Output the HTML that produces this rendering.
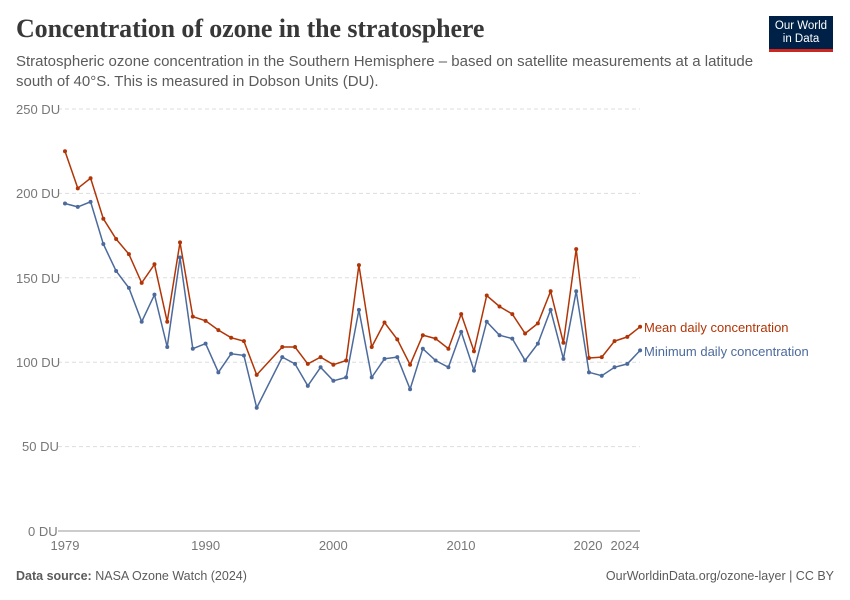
<!DOCTYPE html>
<html><head><meta charset="utf-8"><style>
body{margin:0;background:#fff;font-family:"Liberation Sans",sans-serif;}
#c{position:relative;width:850px;height:600px;overflow:hidden}
h1{position:absolute;left:16px;top:14px;margin:0;font-family:"Liberation Serif",serif;font-weight:bold;font-size:26px;color:#383838;letter-spacing:-0.1px}
.sub{position:absolute;left:16px;top:52px;font-size:15px;color:#5b5b5b;line-height:19.5px;width:740px}
.logo{position:absolute;left:769px;top:16px;width:64px;height:36px;background:#002147;color:#fff;font-size:11.5px;line-height:13px;text-align:center;padding-top:4px;box-sizing:border-box;border-bottom:3px solid #ce261e}
.foot{position:absolute;top:569px;font-size:12.5px;color:#5b5b5b}
</style></head><body><div id="c">
<h1>Concentration of ozone in the stratosphere</h1>
<div class="sub">Stratospheric ozone concentration in the Southern Hemisphere – based on satellite measurements at a latitude south of 40°S. This is measured in Dobson Units (DU).</div>
<div class="logo">Our World<br>in Data</div>
<svg width="850" height="600" style="position:absolute;left:0;top:0" font-family="Liberation Sans,sans-serif">
<g stroke="#ddd" stroke-dasharray="4,3">
<line x1="58" x2="640" y1="109" y2="109"/><line x1="58" x2="640" y1="193.4" y2="193.4"/><line x1="58" x2="640" y1="277.8" y2="277.8"/><line x1="58" x2="640" y1="362.2" y2="362.2"/><line x1="58" x2="640" y1="446.6" y2="446.6"/>
</g>
<line x1="58" x2="640" y1="531" y2="531" stroke="#999"/>
<g font-size="13" fill="#777">
<text x="16" y="114">250 DU</text><text x="16" y="198">200 DU</text><text x="16" y="283">150 DU</text><text x="16" y="367">100 DU</text><text x="22" y="451">50 DU</text><text x="28" y="536">0 DU</text>
<text x="65" y="550" text-anchor="middle">1979</text><text x="205.6" y="550" text-anchor="middle">1990</text><text x="333.3" y="550" text-anchor="middle">2000</text><text x="461" y="550" text-anchor="middle">2010</text><text x="588" y="550" text-anchor="middle">2020</text><text x="625" y="550" text-anchor="middle">2024</text>
</g>
<g id="g"></g>
<text x="644" y="332" font-size="13" fill="#b13507">Mean daily concentration</text>
<text x="644" y="356" font-size="13" fill="#4c6a9c">Minimum daily concentration</text>
</svg>
<div class="foot" style="left:16px"><b>Data source:</b> NASA Ozone Watch (2024)</div>
<div class="foot" style="right:16px">OurWorldinData.org/ozone-layer | CC BY</div>
</div>
<script>
var yrs=[1979,1980,1981,1982,1983,1984,1985,1986,1987,1988,1989,1990,1991,1992,1993,1994,1996,1997,1998,1999,2000,2001,2002,2003,2004,2005,2006,2007,2008,2009,2010,2011,2012,2013,2014,2015,2016,2017,2018,2019,2020,2021,2022,2023,2024];
var mean=[225,203,209,185,173,164,147,158,124,171,127,124.5,119,114.5,112.5,92.5,109,109,99,103,98.5,101,157.5,109,123.5,113.5,98.5,116,114,108,128.5,106.5,139.5,133,128.5,117,123,142,111.5,167,102.5,103,112.5,115,121];
var mn=[194,192,195,170,154,144,124,140,109,162,108,111,94,105,104,73,103,99,86,97,89,91,131,91,102,103,84,108,101,97,118,95,124,116,114,101,111,131,102,142,94,92,97,99,107];
function X(y){return 65+(y-1979)*12.78}function Y(v){return 531-v*1.688}
var s='';[[mean,'#b13507'],[mn,'#4c6a9c']].forEach(function(d){var p=yrs.map(function(y,i){return X(y).toFixed(1)+','+Y(d[0][i]).toFixed(1)}).join(' ');s+='<polyline fill="none" stroke="'+d[1]+'" stroke-width="1.5" points="'+p+'"/>';yrs.forEach(function(y,i){s+='<circle cx="'+X(y)+'" cy="'+Y(d[0][i])+'" r="2" fill="'+d[1]+'"/>'})});
document.getElementById('g').innerHTML=s;
</script>
</body></html>
